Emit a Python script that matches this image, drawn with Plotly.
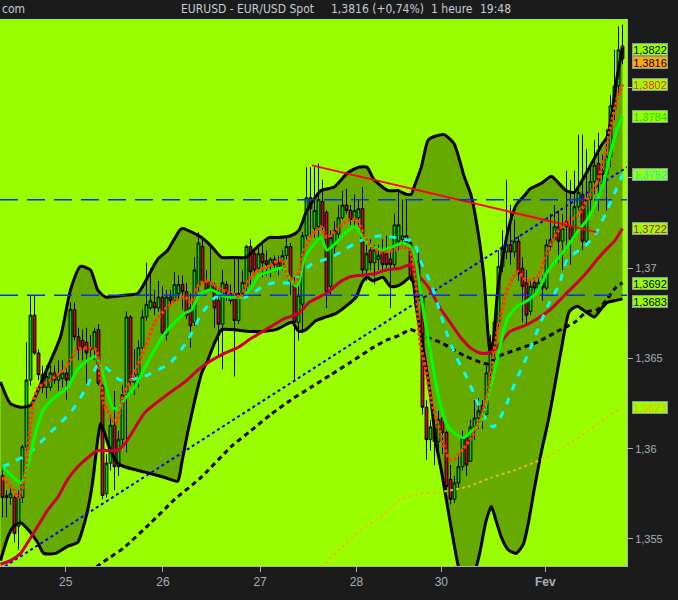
import plotly.graph_objects as go

# ---------------- data: hourly EUR/USD candles ----------------
candle_open = [1.3585, 1.3573, 1.3573, 1.3573, 1.3557, 1.3573, 1.3601, 1.3638, 1.3674, 1.3653,
               1.3641, 1.3634, 1.3634, 1.3642, 1.3638, 1.3639, 1.3642, 1.3638, 1.3677, 1.3662,
               1.3660, 1.3659, 1.3656, 1.3655, 1.3666, 1.3635, 1.3575, 1.3592, 1.3613, 1.3590,
               1.3605, 1.3630, 1.3673, 1.3637, 1.3641, 1.3656, 1.3673, 1.3678, 1.3681, 1.3678,
               1.3684, 1.3663, 1.3684, 1.3682, 1.3686, 1.3691, 1.3687, 1.3678, 1.3670, 1.3690,
               1.3712, 1.3693, 1.3688, 1.3690, 1.3682, 1.3669, 1.3691, 1.3682, 1.3686, 1.3671,
               1.3686, 1.3690, 1.3712, 1.3708, 1.3700, 1.3708, 1.3704, 1.3702, 1.3705, 1.3703,
               1.3700, 1.3707, 1.3712, 1.3692, 1.3670, 1.3680, 1.3718, 1.3739, 1.3722, 1.3723,
               1.3737, 1.3731, 1.3690, 1.3712, 1.3719, 1.3728, 1.3735, 1.3732, 1.3727, 1.3728,
               1.3733, 1.3699, 1.3710, 1.3703, 1.3705, 1.3710, 1.3708, 1.3705, 1.3702, 1.3715,
               1.3716, 1.3718, 1.3714, 1.3693, 1.3704, 1.3684, 1.3623, 1.3605, 1.3611, 1.3604,
               1.3617, 1.3609, 1.3583, 1.3572, 1.3581, 1.3590, 1.3606, 1.3593, 1.3612, 1.3617,
               1.3624, 1.3619, 1.3642, 1.3657, 1.3670, 1.3701, 1.3709, 1.3713, 1.3709, 1.3715,
               1.3700, 1.3692, 1.3676, 1.3692, 1.3689, 1.3692, 1.3689, 1.3712, 1.3716, 1.3723,
               1.3715, 1.3726, 1.3723, 1.3718, 1.3734, 1.3741, 1.3715, 1.3738, 1.3748, 1.3758,
               1.3754, 1.3752, 1.3762, 1.3788, 1.3801, 1.3823]
candle_high = [1.3591, 1.3577, 1.3578, 1.3574, 1.3577, 1.3602, 1.3659, 1.3685, 1.3685, 1.3655,
               1.3646, 1.3646, 1.3646, 1.3646, 1.3649, 1.3649, 1.3645, 1.3681, 1.3681, 1.3667,
               1.3666, 1.3667, 1.3663, 1.3667, 1.3669, 1.3636, 1.3597, 1.3619, 1.3632, 1.3610,
               1.3635, 1.3676, 1.3674, 1.3655, 1.3660, 1.3677, 1.3703, 1.3700, 1.3688, 1.3693,
               1.3690, 1.3688, 1.3688, 1.3698, 1.3696, 1.3696, 1.3692, 1.3686, 1.3706, 1.3720,
               1.3716, 1.3699, 1.3712, 1.3692, 1.3688, 1.3699, 1.3693, 1.3691, 1.3705, 1.3706,
               1.3699, 1.3713, 1.3716, 1.3710, 1.3713, 1.3713, 1.3710, 1.3706, 1.3707, 1.3707,
               1.3710, 1.3717, 1.3714, 1.3695, 1.3690, 1.3720, 1.3756, 1.3756, 1.3756, 1.3758,
               1.3749, 1.3732, 1.3721, 1.3726, 1.3735, 1.3743, 1.3744, 1.3735, 1.3741, 1.3738,
               1.3745, 1.3713, 1.3716, 1.3713, 1.3713, 1.3716, 1.3718, 1.3710, 1.3730, 1.3744,
               1.3738, 1.3738, 1.3716, 1.3707, 1.3710, 1.3685, 1.3627, 1.3616, 1.3616, 1.3621,
               1.3621, 1.3610, 1.3591, 1.3585, 1.3597, 1.3610, 1.3608, 1.3616, 1.3627, 1.3628,
               1.3627, 1.3646, 1.3663, 1.3674, 1.3710, 1.3721, 1.3749, 1.3735, 1.3727, 1.3718,
               1.3706, 1.3699, 1.3693, 1.3695, 1.3695, 1.3696, 1.3716, 1.3730, 1.3735, 1.3732,
               1.3730, 1.3754, 1.3749, 1.3754, 1.3774, 1.3774, 1.3766, 1.3757, 1.3771, 1.3775,
               1.3763, 1.3777, 1.3796, 1.3821, 1.3834, 1.3835]
candle_low = [1.3562, 1.3562, 1.3569, 1.3548, 1.3544, 1.3570, 1.3599, 1.3635, 1.3652, 1.3638,
              1.3631, 1.3628, 1.3632, 1.3636, 1.3632, 1.3634, 1.3627, 1.3635, 1.3660, 1.3649,
              1.3649, 1.3636, 1.3649, 1.3649, 1.3635, 1.3572, 1.3573, 1.3588, 1.3577, 1.3585,
              1.3602, 1.3598, 1.3635, 1.3630, 1.3634, 1.3655, 1.3671, 1.3677, 1.3674, 1.3676,
              1.3662, 1.3660, 1.3680, 1.3682, 1.3682, 1.3677, 1.3672, 1.3656, 1.3668, 1.3687,
              1.3692, 1.3687, 1.3687, 1.3667, 1.3651, 1.3644, 1.3682, 1.3680, 1.3640, 1.3669,
              1.3685, 1.3685, 1.3691, 1.3696, 1.3699, 1.3695, 1.3696, 1.3695, 1.3698, 1.3696,
              1.3699, 1.3705, 1.3685, 1.3637, 1.3660, 1.3664, 1.3716, 1.3717, 1.3717, 1.3717,
              1.3721, 1.3678, 1.3685, 1.3707, 1.3716, 1.3727, 1.3730, 1.3724, 1.3722, 1.3721,
              1.3695, 1.3693, 1.3699, 1.3691, 1.3699, 1.3699, 1.3700, 1.3678, 1.3700, 1.3710,
              1.3713, 1.3711, 1.3693, 1.3688, 1.3682, 1.3619, 1.3594, 1.3599, 1.3591, 1.3594,
              1.3597, 1.3576, 1.3569, 1.3570, 1.3577, 1.3588, 1.3585, 1.3593, 1.3605, 1.3611,
              1.3611, 1.3619, 1.3638, 1.3648, 1.3666, 1.3698, 1.3705, 1.3702, 1.3706, 1.3693,
              1.3670, 1.3669, 1.3674, 1.3685, 1.3687, 1.3682, 1.3688, 1.3710, 1.3715, 1.3703,
              1.3699, 1.3710, 1.3702, 1.3716, 1.3732, 1.3710, 1.3713, 1.3732, 1.3741, 1.3732,
              1.3743, 1.3732, 1.3756, 1.3782, 1.3796, 1.3813]
candle_close = [1.3573, 1.3574, 1.3575, 1.3553, 1.3573, 1.3601, 1.3638, 1.3674, 1.3653, 1.3641,
                1.3634, 1.3640, 1.3642, 1.3638, 1.3641, 1.3642, 1.3638, 1.3677, 1.3662, 1.3655,
                1.3656, 1.3653, 1.3655, 1.3665, 1.3636, 1.3574, 1.3592, 1.3613, 1.3590, 1.3605,
                1.3630, 1.3673, 1.3637, 1.3641, 1.3656, 1.3673, 1.3680, 1.3682, 1.3678, 1.3684,
                1.3664, 1.3684, 1.3682, 1.3691, 1.3691, 1.3687, 1.3674, 1.3668, 1.3699, 1.3714,
                1.3693, 1.3688, 1.3692, 1.3678, 1.3669, 1.3692, 1.3686, 1.3686, 1.3671, 1.3686,
                1.3692, 1.3712, 1.3698, 1.3699, 1.3708, 1.3703, 1.3702, 1.3705, 1.3702, 1.3700,
                1.3707, 1.3712, 1.3692, 1.3670, 1.3685, 1.3718, 1.3739, 1.3733, 1.3732, 1.3738,
                1.3723, 1.3687, 1.3717, 1.3721, 1.3728, 1.3735, 1.3732, 1.3727, 1.3732, 1.3733,
                1.3699, 1.3708, 1.3703, 1.3710, 1.3707, 1.3702, 1.3702, 1.3702, 1.3724, 1.3724,
                1.3718, 1.3714, 1.3695, 1.3702, 1.3684, 1.3623, 1.3605, 1.3612, 1.3604, 1.3616,
                1.3609, 1.3579, 1.3572, 1.3581, 1.3590, 1.3606, 1.3591, 1.3612, 1.3617, 1.3621,
                1.3619, 1.3642, 1.3657, 1.3670, 1.3701, 1.3711, 1.3713, 1.3709, 1.3715, 1.3697,
                1.3690, 1.3674, 1.3690, 1.3689, 1.3692, 1.3689, 1.3713, 1.3716, 1.3723, 1.3715,
                1.3722, 1.3723, 1.3716, 1.3734, 1.3742, 1.3715, 1.3738, 1.3748, 1.3757, 1.3748,
                1.3752, 1.3762, 1.3790, 1.3801, 1.3821, 1.3816]
candle_idx = list(range(len(candle_open)))

# Bollinger envelope (upper / lower)
bb_up_x = [-0.5, 2.0, 4.5, 7.0, 10.3, 14.5, 17.0, 19.5, 22.0, 23.8, 25.8, 30.3, 33.8, 36.3, 38.8,
           41.3, 44.3, 45.1, 47.3, 49.8, 52.3, 54.8, 57.8, 60.8, 63.8, 66.6, 68.9, 72.1, 74.1, 75.9,
           78.4, 79.6, 82.9, 86.4, 89.1, 91.1, 92.9, 96.4, 98.9, 100.9, 102.2, 102.9, 104.7, 106.4,
           107.9, 110.4, 112.9, 115.4, 117.2, 118.9, 120.4, 121.4, 121.9, 122.7, 123.9, 126.4, 128.4,
           130.4, 131.9, 134.7, 137.2, 138.7, 140.9, 142.9, 145.5, 148.0, 149.7, 151.2, 152.5, 153.5, 155.0]
bb_up_y = [1.3637, 1.3625, 1.3623, 1.3624, 1.3640, 1.3662, 1.3688, 1.3701, 1.3699, 1.3688, 1.3684,
           1.3685, 1.3686, 1.3695, 1.3705, 1.3710, 1.3721, 1.3722, 1.3720, 1.3717, 1.3712, 1.3706,
           1.3706, 1.3706, 1.3712, 1.3717, 1.3717, 1.3718, 1.3721, 1.3731, 1.3740, 1.3743, 1.3745,
           1.3753, 1.3756, 1.3756, 1.3749, 1.3743, 1.3743, 1.3741, 1.3741, 1.3745, 1.3756, 1.3771,
           1.3773, 1.3774, 1.3769, 1.3751, 1.3740, 1.3720, 1.3694, 1.3663, 1.3653, 1.3660, 1.3690,
           1.3721, 1.3735, 1.3740, 1.3744, 1.3747, 1.3751, 1.3748, 1.3743, 1.3742, 1.3751, 1.3761,
           1.3768, 1.3773, 1.3788, 1.3804, 1.3822]
bb_lo_x = [-0.5, 1.5, 2.8, 4.5, 6.5, 8.8, 10.3, 13.3, 16.3, 18.8, 20.0, 21.3, 22.5, 23.8, 24.5,
           25.3, 27.0, 28.8, 30.5, 35.6, 40.6, 43.8, 44.8, 46.3, 48.1, 49.8, 51.3, 53.1, 54.8, 57.3,
           61.6, 64.8, 68.4, 72.4, 74.1, 75.9, 78.4, 80.9, 83.4, 85.9, 88.4, 89.9, 91.1, 92.6, 95.1,
           96.9, 98.4, 100.2, 101.9, 102.7, 103.4, 105.2, 106.9, 108.4, 109.7, 111.4, 112.9, 114.2,
           115.9, 117.7, 119.2, 120.9, 122.2, 123.4, 124.7, 126.4, 128.4, 130.2, 131.4, 132.9, 134.7,
           136.5, 138.0, 139.7, 141.7, 143.7, 145.7, 148.0, 149.5, 151.2, 153.0, 155.0]
bb_lo_y = [1.3538, 1.3552, 1.3557, 1.3559, 1.3555, 1.3548, 1.3542, 1.3542, 1.3546, 1.3548, 1.3555,
           1.3566, 1.3581, 1.3605, 1.3614, 1.3610, 1.3599, 1.3592, 1.3590, 1.3587, 1.3584, 1.3582,
           1.3592, 1.3609, 1.3627, 1.3642, 1.3649, 1.3659, 1.3666, 1.3666, 1.3665, 1.3665, 1.3666,
           1.3670, 1.3665, 1.3666, 1.3671, 1.3673, 1.3675, 1.3679, 1.3684, 1.3692, 1.3695, 1.3693,
           1.3695, 1.3690, 1.3690, 1.3692, 1.3695, 1.3692, 1.3679, 1.3655, 1.3631, 1.3603, 1.3588,
           1.3566, 1.3547, 1.3533, 1.3527, 1.3530, 1.3541, 1.3560, 1.3568, 1.3560, 1.3551, 1.3544,
           1.3542, 1.3547, 1.3558, 1.3577, 1.3598, 1.3616, 1.3634, 1.3655, 1.3676, 1.3679, 1.3676,
           1.3673, 1.3677, 1.3681, 1.3682, 1.3683]

# fast average (red dotted)
fast_x = [0.0, 1.3, 2.8, 4.0, 5.3, 6.3, 7.0, 7.8, 9.0, 12.0, 15.3, 17.0, 18.8, 21.3, 23.3, 24.5,
          25.3, 26.5, 28.3, 29.5, 30.5, 33.0, 35.6, 38.1, 40.6, 43.1, 45.6, 47.3, 48.8, 50.6, 52.8,
          54.8, 57.3, 59.6, 61.3, 64.1, 66.6, 69.9, 71.1, 73.4, 74.9, 76.6, 78.4, 79.6, 81.1, 83.4,
          85.9, 88.4, 90.4, 92.6, 95.1, 97.6, 100.2, 101.9, 103.2, 103.9, 104.4, 105.7, 107.2, 108.9,
          110.7, 111.9, 113.4, 115.2, 116.9, 118.4, 120.2, 121.4, 122.7, 123.9, 126.2, 128.7, 131.2,
          133.7, 136.2, 138.7, 141.2, 143.7, 146.2, 148.7, 150.5, 152.0, 153.7, 155.0]
fast_y = [1.3584, 1.3581, 1.3577, 1.3573, 1.3581, 1.3599, 1.3614, 1.3627, 1.3634, 1.3638, 1.3644,
          1.3649, 1.3655, 1.3656, 1.3655, 1.3640, 1.3625, 1.3620, 1.3614, 1.3623, 1.3631, 1.3642,
          1.3656, 1.3670, 1.3677, 1.3682, 1.3684, 1.3681, 1.3690, 1.3693, 1.3691, 1.3688, 1.3686,
          1.3684, 1.3693, 1.3699, 1.3701, 1.3705, 1.3696, 1.3692, 1.3706, 1.3716, 1.3721, 1.3723,
          1.3717, 1.3721, 1.3726, 1.3727, 1.3718, 1.3711, 1.3709, 1.3710, 1.3712, 1.3710, 1.3695,
          1.3673, 1.3659, 1.3645, 1.3627, 1.3613, 1.3599, 1.3594, 1.3595, 1.3600, 1.3605, 1.3611,
          1.3621, 1.3632, 1.3651, 1.3667, 1.3688, 1.3698, 1.3693, 1.3695, 1.3709, 1.3720, 1.3726,
          1.3729, 1.3738, 1.3748, 1.3761, 1.3778, 1.3794, 1.3802]

# green average
mid_x = [0.0, 1.3, 2.8, 4.5, 5.3, 7.0, 8.3, 10.3, 12.8, 16.3, 18.8, 21.3, 23.3, 24.5, 26.3, 27.5,
         28.8, 30.3, 33.0, 35.6, 38.1, 40.6, 43.1, 45.6, 47.3, 48.8, 50.6, 52.3, 54.8, 57.3, 59.8,
         62.1, 64.1, 66.6, 69.1, 70.4, 71.6, 73.4, 74.1, 75.4, 77.4, 79.6, 81.1, 83.4, 85.9, 88.4,
         90.4, 92.4, 95.1, 97.6, 100.2, 101.9, 103.2, 104.4, 105.7, 106.9, 108.2, 109.4, 110.9,
         112.7, 115.2, 116.9, 119.4, 120.9, 122.7, 124.2, 126.2, 128.7, 131.2, 133.7, 136.2, 138.7,
         141.2, 143.7, 146.2, 148.7, 150.5, 152.0, 153.7, 155.0]
mid_y = [1.3590, 1.3587, 1.3584, 1.3581, 1.3583, 1.3597, 1.3609, 1.3622, 1.3628, 1.3634, 1.3644,
         1.3649, 1.3651, 1.3646, 1.3631, 1.3623, 1.3622, 1.3627, 1.3634, 1.3645, 1.3655, 1.3664,
         1.3670, 1.3675, 1.3677, 1.3684, 1.3687, 1.3688, 1.3685, 1.3684, 1.3684, 1.3689, 1.3696,
         1.3698, 1.3700, 1.3700, 1.3695, 1.3690, 1.3692, 1.3705, 1.3712, 1.3717, 1.3710, 1.3714,
         1.3720, 1.3723, 1.3716, 1.3712, 1.3710, 1.3712, 1.3714, 1.3712, 1.3705, 1.3688, 1.3670,
         1.3655, 1.3638, 1.3625, 1.3614, 1.3609, 1.3606, 1.3609, 1.3614, 1.3625, 1.3640, 1.3655,
         1.3672, 1.3679, 1.3682, 1.3687, 1.3698, 1.3705, 1.3712, 1.3720, 1.3727, 1.3738, 1.3749,
         1.3764, 1.3777, 1.3784]

# cyan dashed average
cyan_x = [0.0, 2.0, 6.3, 12.0, 17.0, 20.8, 23.8, 25.8, 29.5, 35.3, 42.1, 46.3, 49.6, 53.3, 60.8,
          65.1, 67.9, 72.1, 77.1, 82.1, 84.6, 89.1, 94.6, 100.4, 102.7, 104.7, 107.2, 109.2, 111.2,
          113.4, 116.2, 118.9, 121.4, 122.7, 123.9, 125.9, 128.4, 131.5, 134.0, 136.5, 139.2, 141.2,
          145.5, 148.0, 150.7, 152.7, 155.0]
cyan_y = [1.3590, 1.3592, 1.3597, 1.3609, 1.3620, 1.3633, 1.3646, 1.3645, 1.3638, 1.3640, 1.3648,
          1.3660, 1.3674, 1.3684, 1.3684, 1.3690, 1.3692, 1.3692, 1.3702, 1.3706, 1.3709, 1.3715,
          1.3718, 1.3716, 1.3715, 1.3703, 1.3691, 1.3677, 1.3663, 1.3651, 1.3639, 1.3625, 1.3614,
          1.3612, 1.3615, 1.3624, 1.3638, 1.3653, 1.3667, 1.3680, 1.3691, 1.3705, 1.3712, 1.3718,
          1.3730, 1.3740, 1.3752]

# crimson average
slow_x = [-0.5, 2.0, 4.5, 6.3, 8.8, 11.3, 13.8, 16.3, 18.8, 21.3, 23.8, 28.8, 31.0, 35.6, 40.6,
          45.6, 49.1, 52.3, 55.6, 58.8, 62.1, 66.6, 70.4, 74.1, 76.6, 79.1, 81.6, 84.1, 86.6, 89.1,
          93.1, 95.9, 99.4, 102.2, 103.4, 105.2, 106.9, 109.4, 111.9, 114.4, 116.9, 119.4, 121.4,
          123.2, 126.9, 130.4, 133.7, 136.9, 140.5, 143.7, 146.2, 148.7, 151.2, 153.0, 155.0]
slow_y = [1.3536, 1.3538, 1.3542, 1.3548, 1.3557, 1.3566, 1.3573, 1.3583, 1.3590, 1.3595, 1.3599,
          1.3599, 1.3604, 1.3620, 1.3629, 1.3637, 1.3644, 1.3649, 1.3653, 1.3656, 1.3661, 1.3667,
          1.3672, 1.3675, 1.3681, 1.3684, 1.3687, 1.3692, 1.3695, 1.3696, 1.3697, 1.3699, 1.3700,
          1.3702, 1.3697, 1.3693, 1.3688, 1.3678, 1.3670, 1.3662, 1.3656, 1.3653, 1.3653, 1.3655,
          1.3665, 1.3668, 1.3672, 1.3677, 1.3685, 1.3692, 1.3698, 1.3705, 1.3711, 1.3715, 1.3722]

# black dashed average
long_x = [20.5, 23.8, 27.0, 30.3, 37.1, 43.1, 49.6, 57.1, 62.1, 67.1, 72.1, 77.1, 82.1, 87.1, 92.6,
          95.9, 99.4, 101.9, 103.4, 105.9, 109.4, 112.7, 115.9, 119.4, 121.4, 123.7, 128.7, 133.7,
          138.7, 143.0, 146.2, 148.7, 151.2, 153.2, 155.0]
long_y = [1.3527, 1.3535, 1.3540, 1.3545, 1.3559, 1.3572, 1.3584, 1.3601, 1.3610, 1.3619, 1.3627,
          1.3634, 1.3641, 1.3648, 1.3656, 1.3660, 1.3663, 1.3666, 1.3665, 1.3662, 1.3659, 1.3655,
          1.3651, 1.3648, 1.3647, 1.3651, 1.3655, 1.3659, 1.3665, 1.3670, 1.3676, 1.3677, 1.3683,
          1.3689, 1.3692]

# yellow dotted average
ylw_x = [79.6, 84.6, 89.6, 95.1, 99.6, 104.7, 109.7, 116.4, 122.2, 127.9, 134.7, 140.5, 146.5, 151.5, 155.0]
ylw_y = [1.3534, 1.3545, 1.3555, 1.3563, 1.3572, 1.3575, 1.3576, 1.3579, 1.3584, 1.3588, 1.3594,
         1.3601, 1.3610, 1.3618, 1.3623]

# trend lines and levels
up_trend_x = [-0.625, 156.125]
up_trend_y = [1.3533, 1.3756]
down_trend_x = [77.4, 148.5]
down_trend_y = [1.3757, 1.3720]
levels = [1.3738, 1.3685]

# axis ticks (labels at 1,375 and 1,38 are hidden under the value tags)
day_ticks = [15.8, 40.1, 64.4, 88.5, 109.7, 135.7]
day_labels = ["25", "26", "27", "28", "30", "<b>Fev</b>"]
price_ticks = [1.355, 1.36, 1.365, 1.37, 1.375, 1.38]
price_labels = ["1,355", "1,36", "1,365", "1,37", "", ""]

# last-value tags on the right axis
tag_values = [1.3822, 1.3816, 1.3802, 1.3784, 1.3752, 1.3722, 1.3692, 1.3683, 1.3623]
tag_texts = ["1,3822", "1,3816", "1,3802", "1,3784", "1,3752", "1,3722", "1,3692", "1,3683", "1,3623"]

# ---------------- styles ----------------
tag_font_colors = ["#000000", "#000000", "#ff2a00", "#10e000", "#00f0ff", "#cc0033", "#000000", "#000000", "#e8b800"]
tag_bg_colors = ["#99ff00", "#ffaa00", "#99ff00", "#99ff00", "#99ff00", "#99ff00", "#99ff00", "#99ff00", "#99ff00"]
tag_shift = [-1, -4, 0, 0, 0, 0, -1, -3, 0]

AX = "#a6b0ba"
BG = "#1b1b1b"
FONT = "Liberation Sans, Arial, sans-serif"
X_RANGE = [-0.625, 156.125]   # 4 px per candle, body edges on pixel boundaries

fig = go.Figure()

# band fill (below candles)
poly = [f"{x},{y}" for x, y in zip(bb_up_x, bb_up_y)] + \
       [f"{x},{y}" for x, y in zip(reversed(bb_lo_x), reversed(bb_lo_y))]
fig.add_shape(type="path", path="M " + " L ".join(poly) + " Z", xref="x", yref="y",
              fillcolor="#66aa00", line=dict(width=0), layer="below")

fig.add_trace(go.Candlestick(
    x=candle_idx, open=candle_open, high=candle_high, low=candle_low, close=candle_close,
    increasing=dict(fillcolor="#00cc00", line=dict(color="#000000", width=1)),
    decreasing=dict(fillcolor="#cc0033", line=dict(color="#000000", width=1)),
    whiskerwidth=0, hoverinfo="skip", showlegend=False))

def line(x, y, color, width, dash="solid", shape="spline"):
    fig.add_trace(go.Scatter(x=x, y=y, mode="lines", hoverinfo="skip", showlegend=False,
                             line=dict(color=color, width=width, dash=dash, shape=shape, smoothing=0.6)))

line(bb_up_x, bb_up_y, "#000000", 3)
line(bb_lo_x, bb_lo_y, "#000000", 3)
line(ylw_x, ylw_y, "#e0c400", 2, "3px,3px")
line(long_x, long_y, "#000000", 3, "5px,4px")
line(up_trend_x, up_trend_y, "#0000ff", 2, "3px,3px", "linear")
line(slow_x, slow_y, "#cc0033", 3)
line(cyan_x, cyan_y, "#00ffff", 3, "7px,8px")
line(mid_x, mid_y, "#00ff00", 3)
line(fast_x, fast_y, "#ff3c00", 3.5, "3px,2px")
line(down_trend_x, down_trend_y, "#ff0000", 2, "solid", "linear")
for lv in levels:
    line(X_RANGE, [lv, lv], "#0033ff", 1.5, "18px,9px", "linear")

annotations = []
for v, t, fc, bc, sh in zip(tag_values, tag_texts, tag_font_colors, tag_bg_colors, tag_shift):
    annotations.append(dict(xref="paper", yref="y", x=1, y=v, xanchor="left", yanchor="middle",
                            xshift=5, yshift=sh, text=t, showarrow=False,
                            font=dict(family=FONT, size=11, color=fc), bgcolor=bc,
                            bordercolor="#8898a8", borderwidth=1, borderpad=0, width=34, height=11))

TITLE_Y = 1.0183
TFONT = dict(family="DejaVu Sans Condensed, Liberation Sans Narrow, Liberation Sans, Arial",
             size=12, color="#c4ccd6")
for txt, px in [("com", 0), ("EURUSD - EUR/USD Spot", 179), ("1,3816 (+0,74%)", 329),
                ("1 heure", 429), ("19:48", 478)]:
    annotations.append(dict(xref="paper", yref="paper", x=px / 627, y=TITLE_Y, xanchor="left",
                            yanchor="middle", text=txt, showarrow=False, font=TFONT))

fig.update_layout(
    width=678, height=600,
    margin=dict(l=0, r=51, t=19, b=34, pad=0, autoexpand=False),
    paper_bgcolor=BG, plot_bgcolor="#99ff00",
    showlegend=False,
    boxgap=0.0,
    annotations=annotations,
    xaxis=dict(range=X_RANGE, tickvals=day_ticks, ticktext=day_labels,
               ticks="outside", ticklen=5, tickcolor=AX, showgrid=False, zeroline=False,
               showline=True, linecolor=AX, linewidth=1, automargin=False,
               tickfont=dict(family=FONT, size=12, color=AX),
               rangeslider=dict(visible=False), fixedrange=True),
    yaxis=dict(range=[1.3535, 1.38381], side="right", tickvals=price_ticks, ticktext=price_labels,
               ticks="outside", ticklen=5, tickcolor=AX, showgrid=False, zeroline=False,
               showline=True, linecolor=AX, linewidth=1, automargin=False,
               tickfont=dict(family=FONT, size=11, color=AX), fixedrange=True),
)

fig.write_html("out.html", config={"displayModeBar": False},
               post_script="document.body.style.margin='0';document.body.style.background='#1b1b1b';")
